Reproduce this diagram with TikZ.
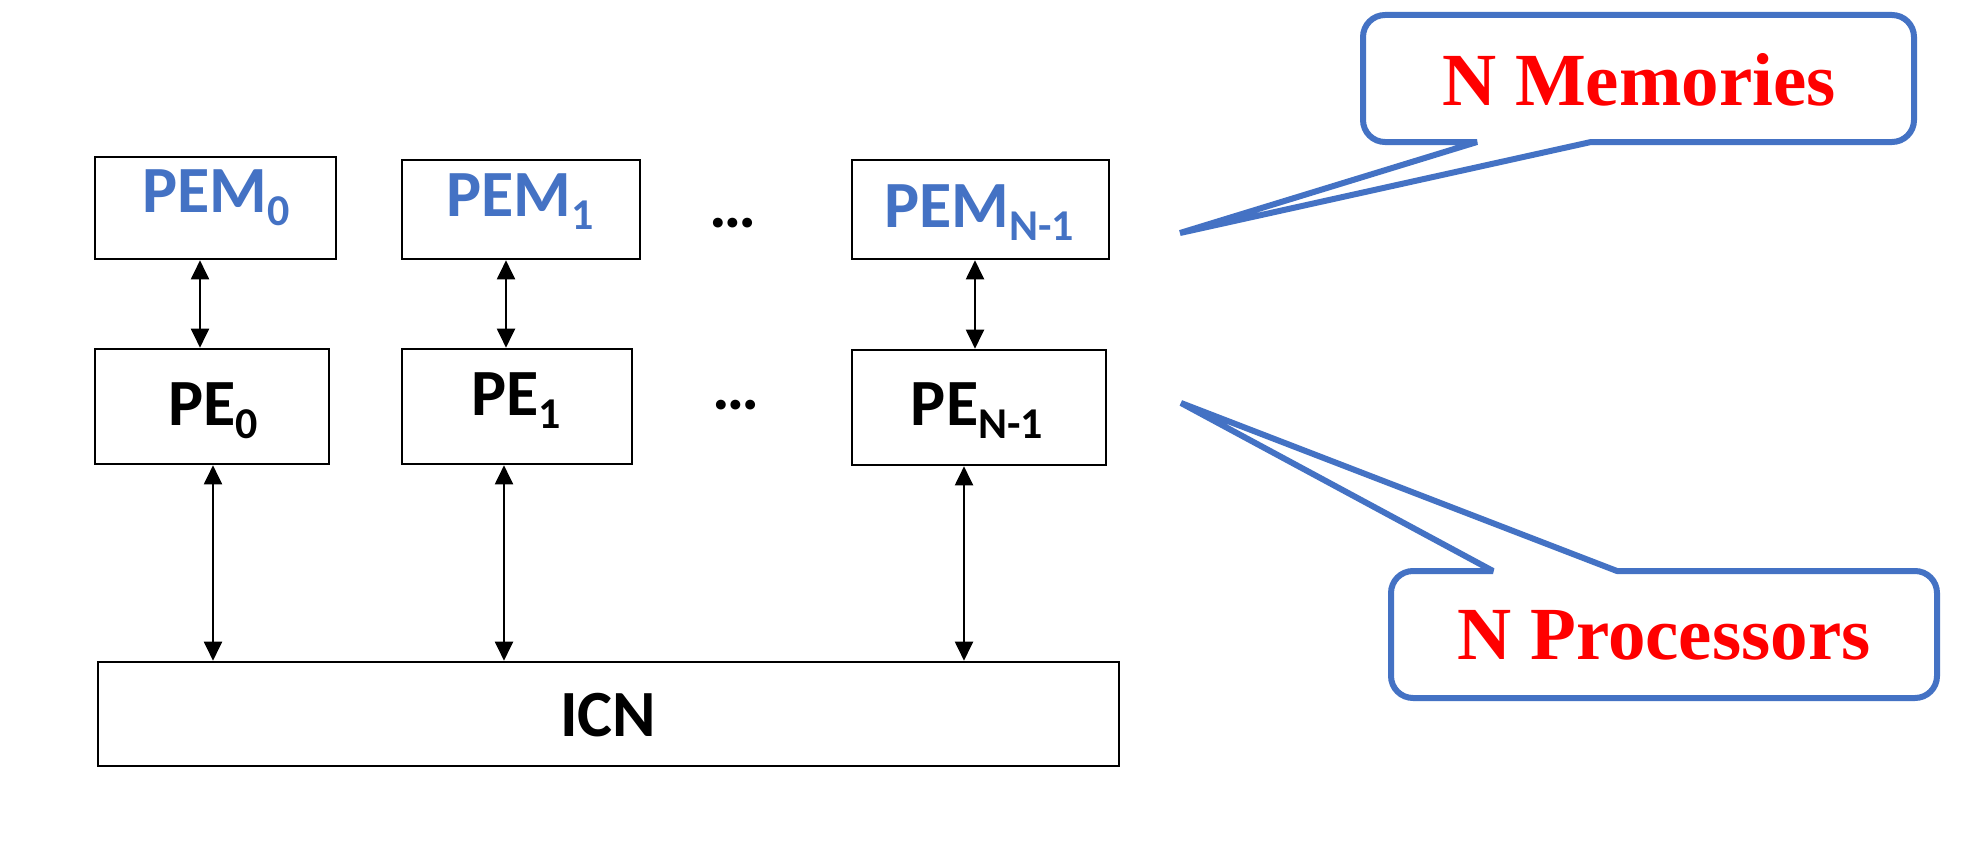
\documentclass[tikz,border=0pt]{standalone}
\usepackage{fontspec}
\newfontfamily\calib{Carlito}
\newfontfamily\tnr{Liberation Serif}
\usetikzlibrary{arrows.meta}
\definecolor{cblue}{HTML}{4472C4}
\definecolor{cred}{HTML}{FF0000}
\newcommand{\sbs}[1]{\raisebox{-13pt}{\fontsize{44}{44}\selectfont #1}}
\begin{document}
\begin{tikzpicture}[x=1pt,y=1pt,
  box/.style={draw=black, line width=2.6pt, rectangle, inner sep=0pt},
  lbl/.style={anchor=base, inner sep=0pt, font=\calib\bfseries\fontsize{66}{66}\selectfont},
  bl/.style={lbl, text=cblue},
  arr/.style={{Triangle[length=19pt,width=18pt]}-{Triangle[length=19pt,width=18pt]}, line width=2pt, draw=black},
  callout/.style={draw=cblue, line width=6pt, line join=bevel, fill=white},
  ctext/.style={anchor=base, inner sep=0pt, text=cred, font=\tnr\bfseries\fontsize{75}{75}\selectfont}]
\useasboundingbox[fill=white] (0,0) rectangle (1975,-867);

% boxes
\node[box, minimum width=241pt, minimum height=102pt] (pem0) at (215.5,-208) {};
\node[box, minimum width=234pt, minimum height=115pt] (pe0) at (212,-406.5) {};
\node[box, minimum width=238pt, minimum height=99pt] (pem1) at (521,-209.5) {};
\node[box, minimum width=230pt, minimum height=115pt] (pe1) at (517,-406.5) {};
\node[box, minimum width=257pt, minimum height=99pt] (pemn) at (980.5,-209.5) {};
\node[box, minimum width=254pt, minimum height=115pt] (pen) at (979,-407.5) {};
\node[box, minimum width=1021pt, minimum height=104pt] (icn) at (608.5,-714) {};

% labels
\node[bl] (tpem0) at (216,-212) {PEM\sbs{0}};
\node[lbl] (tpe0) at (213,-425) {PE\sbs{0}};
\node[bl] (tpem1) at (520,-216) {PEM\sbs{1}};
\node[lbl] (tpe1) at (516,-415) {PE\sbs{1}};
\node[bl] (tpemn) at (979,-227) {PEM\sbs{N-1}};
\node[lbl] (tpen) at (977,-425) {PE\sbs{N-1}};
\node[lbl] (ticn) at (608,-736) {ICN};
\node[lbl] (dots1) at (733,-227) {…};
\node[lbl] (dots2) at (736,-409) {…};

% arrows
\draw[arr] (pem0.south -| 200,0) -- (pe0.north -| 200,0);
\draw[arr] (pem1.south -| 506,0) -- (pe1.north -| 506,0);
\draw[arr] (pemn.south -| 975,0) -- (pen.north -| 975,0);
\draw[arr] (pe0.south -| 213,0) -- (icn.north -| 213,0);
\draw[arr] (pe1.south -| 504,0) -- (icn.north -| 504,0);
\draw[arr] (pen.south -| 964,0) -- (icn.north -| 964,0);

% callout 1
\coordinate (tip1) at (1180,-233);
\draw[callout] (1477,-142) -- (tip1) -- (1591,-142) -- (1892,-142)
  arc[start angle=-90, end angle=0, radius=22] -- (1914,-37)
  arc[start angle=0, end angle=90, radius=22] -- (1385,-15)
  arc[start angle=90, end angle=180, radius=22] -- (1363,-120)
  arc[start angle=180, end angle=270, radius=22] -- cycle;
\node[ctext] (mem) at (1639,-105) {N Memories};

% callout 2
\coordinate (tip2) at (1181,-403);
\draw[callout] (1617,-571) -- (tip2) -- (1493,-571) -- (1413,-571)
  arc[start angle=90, end angle=180, radius=22] -- (1391,-676)
  arc[start angle=180, end angle=270, radius=22] -- (1915,-698)
  arc[start angle=270, end angle=360, radius=22] -- (1937,-593)
  arc[start angle=0, end angle=90, radius=22] -- cycle;
\node[ctext] (proc) at (1664,-659) {N Processors};
\end{tikzpicture}
\end{document}
